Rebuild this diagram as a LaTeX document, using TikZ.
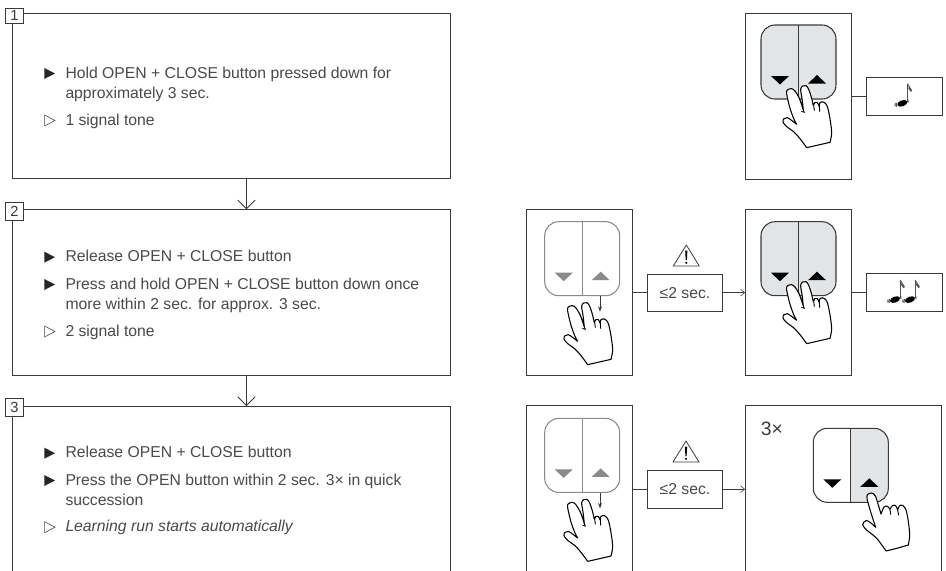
\documentclass[tikz,border=0pt]{standalone}
\usepackage{fontspec}
\setmainfont{Liberation Sans}
\usetikzlibrary{arrows.meta}
\definecolor{ink}{HTML}{3A3A3A}
\definecolor{txtc}{HTML}{4A4A4A}
\definecolor{keygray}{HTML}{E3E4E6}
\definecolor{softgray}{HTML}{8A8A8A}
\tikzset{
  framebox/.style={draw=ink,line width=.75pt,fill=white,inner sep=0pt,outer sep=0pt},
  numbox/.style={draw=ink,line width=.6pt,fill=white,inner sep=0pt,outer sep=0pt,minimum width=14pt,font=\fontsize{11}{12}\selectfont,text=ink},
  txt/.style={anchor=base west,inner sep=0pt,outer sep=0pt,text=txtc,font=\fontsize{11.8}{14}\selectfont},
  conn/.style={draw=ink,line width=.75pt},
  bigarrow/.style={conn,-{Straight Barb[length=6.5pt,width=13pt,line width=.6pt]}},
  smallarrow/.style={conn,-{Straight Barb[length=3pt,width=5pt,line width=.4pt]}},
  twohand/.pic={
    \begin{scope}[scale=1/3,shift={(105,201)}]
      \draw[black,line width=.8pt,fill=white,line join=round]
        plot[smooth,tension=.55] coordinates {(80,203)(115,195)(150,187)}
        -- plot[smooth,tension=.55] coordinates {(150,187)(155,160)(152,130)(146,95)(140,75)(130,66)(120,68)(117,78)}
        -- plot[smooth,tension=.6] coordinates {(117,78)(112,68)(104,68)(100,76)(95,55)(86,28)(78,17)(68,18)(62,28)(66,55)(70,90)}
        -- plot[smooth,tension=.5] coordinates {(70,90)(58,55)(44,32)(34,26)(22,30)(20,42)(30,85)(42,118)(50,133)}
        -- plot[smooth,tension=.6] coordinates {(50,133)(36,122)(22,113)(12,116)(9,126)(20,140)(42,156)(60,176)(80,203)};
      \draw[black,line width=.7pt] (118,76) -- (119,95) (101,76) -- (103,92);
      \draw[black,line width=.6pt] (70,90) -- (73,97) -- (64,94);
    \end{scope}
  },
  onehand/.pic={
    \begin{scope}[scale=1/3]
      \draw[black,line width=.8pt,fill=white,line join=round]
        plot[smooth,tension=.55] coordinates {(468,483)(500,475)(535,465)}
        -- plot[smooth,tension=.55] coordinates {(535,465)(539,435)(535,395)(528,360)(518,346)(508,348)(503,360)}
        -- plot[smooth,tension=.6] coordinates {(503,360)(497,347)(487,347)(480,358)}
        -- plot[smooth,tension=.6] coordinates {(480,358)(472,349)(462,351)(453,372)}
        -- plot[smooth,tension=.5] coordinates {(453,372)(445,345)(436,318)(425,309)(412,314)(412,330)(424,372)(437,412)}
        -- plot[smooth,tension=.6] coordinates {(437,412)(420,397)(408,392)(398,404)(410,420)(440,445)(468,483)};
      \draw[black,line width=.7pt] (503,360) -- (506,376) (480,358) -- (482,374);
    \end{scope}
  },
  tonenote/.pic={
    \draw[softgray!60!black,line width=.6pt] (0,0) -- (0,-18);
    \draw[softgray!60!black,line width=.7pt] (0,-18) -- (4.5,-11) (1,-14) -- (4,-10);
    \fill[black,shift={(-5,1.6)},rotate=20] (0,0) ellipse [x radius=5.3,y radius=3];
    \draw[softgray!60!black,line width=.7pt] (-10.5,1) -- (-11,5) (-12,1.5) -- (-12.3,4.5) (0.8,-2) -- (0.8,1);
  },
  warnsign/.pic={
    \draw[ink,line width=.6pt,line join=round] (0,0) -- (13,21) -- (-13,21) -- cycle;
    \fill[black] (-1.1,5.5) -- (1.1,5.5) -- (.6,15) -- (-.6,15) -- cycle;
    \fill[black] (0,17.8) circle [radius=1.2];
  },
}
\newcommand{\pxbox}[6][framebox]{%
  \node[#1,minimum width={(#5-#3)*.75pt},minimum height={(#6-#4)*.75pt}] (#2) at ({(#3+#5)/2},{(#4+#6)/2}) {};}
\newcommand{\keypad}[6]{%
  \begin{scope}[shift={(#1,#2)}]
    \fill[#3,rounded corners=10.5pt] (0,0) rectangle (75,74);
    \begin{scope}\clip (37.5,-1) rectangle (76,75);
      \fill[#4,rounded corners=10.5pt] (0,0) rectangle (75,74);
    \end{scope}
    \draw[#5,line width=.8pt,rounded corners=10.5pt] (0,0) rectangle (75,74);
    \draw[#5,line width=.8pt] (37.5,0) -- (37.5,74);
    \fill[#6] (10,51) -- (28,51) -- (19,59.5) -- cycle;
    \fill[#6] (47,58.5) -- (65,58.5) -- (56,50) -- cycle;
  \end{scope}}
\newcommand{\fullbul}[1]{\fill[black!85] (44.3,#1-10) -- (55,#1-4.5) -- (44.3,#1+1) -- cycle;}
\newcommand{\openbul}[1]{\draw[txtc,line width=.45pt,line join=miter] (44.6,#1-10) -- (55,#1-4.5) -- (44.6,#1+1) -- cycle;}
\begin{document}
\begin{tikzpicture}[x=.75pt,y=-.75pt]
\clip (0,0) rectangle (946,571);
\useasboundingbox (0,0) rectangle (946,571);
% left column
\pxbox{boxa}{12.5}{13}{450}{178.5}
\pxbox{boxb}{12.5}{209.3}{450}{375}
\pxbox{boxc}{12.5}{406}{450}{590}
\coordinate (flowx) at (246.5,0);
\draw[bigarrow] (boxa.south -| flowx) -- (boxb.north -| flowx);
\draw[bigarrow] (boxb.south -| flowx) -- (boxc.north -| flowx);
\node[numbox,minimum height=11.2pt] (numa) at (14.5,15.8) {1};
\node[numbox,minimum height=13.6pt] (numb) at (14.5,211.3) {2};
\node[numbox,minimum height=13.6pt] (numc) at (14.5,407.8) {3};
\fullbul{78}
\node[txt] (ta) at (65.5,78) {Hold OPEN + CLOSE button pressed down for};
\node[txt] (tb) at (65.5,98) {approximately 3 sec.};
\openbul{125}
\node[txt] (tc) at (65.5,125) {1 signal tone};
\fullbul{261.7}
\node[txt] (td) at (65.5,261.7) {Release OPEN + CLOSE button};
\fullbul{289}
\node[txt] (te) at (65.5,289) {Press and hold OPEN + CLOSE button down once};
\node[txt] (tf) at (65.5,309) {more within 2 sec. for approx. 3 sec.};
\openbul{336}
\node[txt] (tg) at (65.5,336) {2 signal tone};
\fullbul{457.7}
\node[txt] (th) at (65.5,457.7) {Release OPEN + CLOSE button};
\fullbul{485}
\node[txt] (ti) at (65.5,485) {Press the OPEN button within 2 sec. 3× in quick};
\node[txt] (tj) at (65.5,505) {succession};
\openbul{531.7}
\node[txt,font=\fontsize{11.8}{14}\selectfont\itshape] (tk) at (65.5,531.7) {Learning run starts automatically};
% row 1
\pxbox{pa}{745}{13}{851}{179}
\pxbox{tonea}{866}{77}{942}{115}
\draw[conn] (pa.east |- tonea.west) -- (tonea.west);
\keypad{761}{25}{keygray}{keygray}{ink}{black}
\pic at (745,13) {twohand};
\pic at (907.3,101.7) {tonenote};
% row 2
\pxbox{pb}{526}{209}{632}{375.7}
\pxbox{delayb}{647.3}{274}{722.7}{311.3}
\pxbox{pc}{745}{209}{851}{375.7}
\pxbox{toneb}{866}{273.5}{942}{311}
\node[inner sep=0pt,text=txtc,font=\fontsize{11.8}{14}\selectfont] (lb) at (delayb.center) {≤2 sec.};
\draw[conn] (pb.east |- delayb.west) -- (delayb.west);
\draw[smallarrow] (delayb.east) -- (delayb.east -| pc.west);
\draw[conn] (pc.east |- toneb.west) -- (toneb.west);
\keypad{544.7}{221.7}{white}{white}{softgray}{softgray}
\pic at (526,230) {twohand};
\draw[ink,line width=.6pt,-{Stealth[length=4pt,width=3pt]}] (600,296) -- (600,311.7);
\pic at (686.3,245) {warnsign};
\keypad{761}{221.7}{keygray}{keygray}{ink}{black}
\pic at (745,209) {twohand};
\pic at (900,298) {tonenote};
\pic at (915,298) {tonenote};
% row 3
\pxbox{pd}{526}{405.7}{632}{590}
\pxbox{delayc}{647.3}{470}{722.7}{508.3}
\pxbox{pe}{745}{405.7}{941.7}{590}
\node[inner sep=0pt,text=txtc,font=\fontsize{11.8}{14}\selectfont] (lc) at (delayc.center) {≤2 sec.};
\draw[conn] (delayc.west -| pd.east) -- (delayc.west);
\draw[smallarrow] (delayc.east) -- (delayc.east -| pe.west);
\keypad{544.7}{418.4}{white}{white}{softgray}{softgray}
\pic at (526,426.7) {twohand};
\draw[ink,line width=.6pt,-{Stealth[length=4pt,width=3pt]}] (600,492.7) -- (600,508.4);
\pic at (686,441) {warnsign};
\keypad{813.3}{428.3}{white}{keygray}{ink}{black}
\pic at (730,390) {onehand};
\node[anchor=base west,inner sep=0pt,text=ink,font=\fontsize{14.5}{16}\selectfont] (times) at (760.7,435) {3×};
\end{tikzpicture}
\end{document}
